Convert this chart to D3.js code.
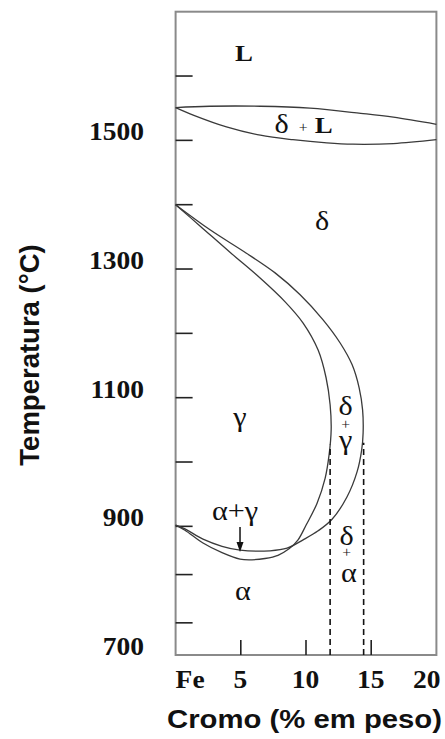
<!DOCTYPE html>
<html><head><meta charset="utf-8">
<script src="https://cdn.jsdelivr.net/npm/d3@7"></script>
<style>body{margin:0;background:#fff}</style>
</head><body><svg id="c" width="445" height="739"></svg>
<script>
// ---- data (Cr wt%, temperature °C) ----
const liquidusCr=[0,2.6,6.5,10.3,14.2,16.7,20];
const liquidusT=[1551,1553,1553,1550,1542,1536,1525];
const solidusCr=[0,1.4,3.9,6.5,9,11.6,13.6,16.7,20];
const solidusT=[1551,1539,1521,1508,1501,1496,1494,1495,1501];
const innerCr=[0,1.87,4.17,6.48,8.4,9.78,10.93,11.54,11.85,11.93,11.77,11.47,10.85,10.01,9.39,8.70,7.85,6.85,5.86,4.94,3.56,2.1,0.72,0];
const innerT=[1400,1367,1326,1286,1249,1216,1174,1131,1089,1050,1011,975,936,902,879,865,855,850,848,849,859,874,894,902];
const outerCr=[0,2.64,5.4,7.63,9.55,11.31,12.62,13.54,14.08,14.34,14.38,14.27,13.92,13.15,12.0,10.93,9.78,8.55,7.24,4.94,3.56,2.1,0.72,0];
const outerT=[1400,1361,1325,1294,1260,1221,1185,1151,1115,1081,1045,1019,985,946,911,893,879,866,862,863,869,880,896,902];
const dashedCr=[11.85,14.42];
const dashedTopT=[1027,1030];
const xTickMarks=[5,10,15];
const xTickValues=[0,5,10,15,20];
const xTickLabels=["Fe","5","10","15","20"];
const yTickMarks=[1600,1500,1400,1300,1200,1100,1000,900,825,750];
const yTickLabels=[1500,1300,1100,900,700];
const phaseLabels=[
  {text:"L",cr:5.25,t:1624,kind:"bold"},
  {text:"δ",cr:8.13,t:1511.5,kind:"greek"},
  {text:"+",cr:9.78,t:1513,kind:"small"},
  {text:"L",cr:11.35,t:1511.5,kind:"bold"},
  {text:"δ",cr:11.24,t:1361,kind:"greek"},
  {text:"γ",cr:4.94,t:1056,kind:"greek"},
  {text:"α+γ",cr:4.56,t:910,kind:"greek"},
  {text:"α",cr:5.17,t:785.5,kind:"greek"}
];
const stackedLabels=[
  {top:"δ",bottom:"γ",cr:13.04,t:1073,plusT:1051,bottomT:1020,bottomShift:0},
  {top:"δ",bottom:"α",cr:13.12,t:871,plusT:852,bottomT:813.5,bottomShift:2}
];
const arrowCr=4.94, arrowFromT=899, arrowToT=860;

// ---- drawing ----
const svg=d3.select("#c");
const x=d3.scaleLinear().domain([0,20]).range([175.6,436.4]);
const y=d3.scaleLinear().domain([700,1700]).range([655,11.7]);
const serif='"Liberation Serif","Times New Roman",serif';
const sans='"Liberation Sans",Arial,sans-serif';

// frame
svg.append("rect").attr("x",x(0)).attr("y",y(1700)).attr("width",x(20)-x(0)).attr("height",y(700)-y(1700))
  .attr("fill","none").attr("stroke","#8a8a8a").attr("stroke-width",2);

// ticks
svg.selectAll(".yt").data(yTickMarks).join("line")
  .attr("x1",x(0)).attr("x2",x(0)+17).attr("y1",d=>y(d)).attr("y2",d=>y(d))
  .attr("stroke","#222").attr("stroke-width",1.6);
svg.selectAll(".xt").data(xTickMarks).join("line")
  .attr("x1",d=>x(d)).attr("x2",d=>x(d)).attr("y1",y(700)).attr("y2",y(700)-15)
  .attr("stroke","#222").attr("stroke-width",1.6);

// tick labels
yTickLabels.forEach(v=>{
  svg.append("g").attr("transform",`translate(144,${y(v)}) scale(1.1,1)`)
   .append("text").attr("text-anchor","end").attr("font-family",serif).attr("font-weight","bold")
   .attr("font-size",25).attr("fill","#111").text(v);
});
xTickValues.forEach((v,i)=>{
  const anchor=i===0?"start":(i===xTickValues.length-1?"end":"middle");
  const px=i===0?x(v):(i===xTickValues.length-1?x(v)+4:x(v)-0.5);
  svg.append("g").attr("transform",`translate(${px},688) scale(1.1,1)`)
   .append("text").attr("text-anchor",anchor).attr("font-family",serif).attr("font-weight","bold")
   .attr("font-size",25).attr("fill","#111").text(xTickLabels[i]);
});

// axis titles
svg.append("text").attr("transform","translate(38.5,355) rotate(-90)").attr("text-anchor","middle")
  .attr("font-family",sans).attr("font-weight","bold").attr("font-size",27.5).attr("fill","#111")
  .text("Temperatura (°C)");
svg.append("text").attr("x",304.5).attr("y",728).attr("text-anchor","middle")
  .attr("font-family",sans).attr("font-weight","bold").attr("font-size",25).attr("fill","#111")
  .attr("textLength",275).attr("lengthAdjust","spacingAndGlyphs")
  .text("Cromo (% em peso)");

// curves
const line=d3.line().x(d=>x(d[0])).y(d=>y(d[1])).curve(d3.curveCatmullRom.alpha(0.5));
const zip=(a,b)=>a.map((v,i)=>[v,b[i]]);
[[liquidusCr,liquidusT],[solidusCr,solidusT],[innerCr,innerT],[outerCr,outerT]].forEach(([a,b])=>{
  svg.append("path").attr("d",line(zip(a,b))).attr("fill","none").attr("stroke","#3a3a3a").attr("stroke-width",1.3);
});

// dashed lines
dashedCr.forEach((c,i)=>{
  svg.append("line").attr("x1",x(c)).attr("x2",x(c)).attr("y1",y(700)).attr("y2",y(dashedTopT[i]))
    .attr("stroke","#111").attr("stroke-width",1.6).attr("stroke-dasharray","6,4");
});

// arrow
svg.append("line").attr("x1",x(arrowCr)).attr("x2",x(arrowCr)).attr("y1",y(arrowFromT)).attr("y2",y(arrowToT)-8)
  .attr("stroke","#111").attr("stroke-width",1.5);
const ax=x(arrowCr), ay=y(arrowToT);
svg.append("path").attr("d",`M${ax-3.5},${ay-10}L${ax+3.5},${ay-10}L${ax},${ay}Z`).attr("fill","#111");

// phase labels
phaseLabels.forEach(l=>{
  const g=svg.append("g").attr("transform",`translate(${x(l.cr)},${y(l.t)}) scale(1.12,1)`);
  const t=g.append("text").attr("text-anchor","middle").attr("font-family",serif).attr("fill","#111").text(l.text);
  if(l.kind==="bold") t.attr("font-weight","bold").attr("font-size",24);
  else if(l.kind==="small") t.attr("font-size",14);
  else t.attr("font-size",27);
});
stackedLabels.forEach(l=>{
  const g=svg.append("g").attr("transform",`translate(${x(l.cr)},${y(l.t)}) scale(1.12,1)`);
  const t=g.append("text").attr("text-anchor","middle").attr("font-family",serif).attr("fill","#111").attr("font-size",27);
  t.append("tspan").attr("x",0).attr("y",0).text(l.top);
  t.append("tspan").attr("x",0).attr("y",y(l.plusT)-y(l.t)).attr("font-size",14).text("+");
  t.append("tspan").attr("x",l.bottomShift).attr("y",y(l.bottomT)-y(l.t)).text(l.bottom);
});
</script></body></html>
